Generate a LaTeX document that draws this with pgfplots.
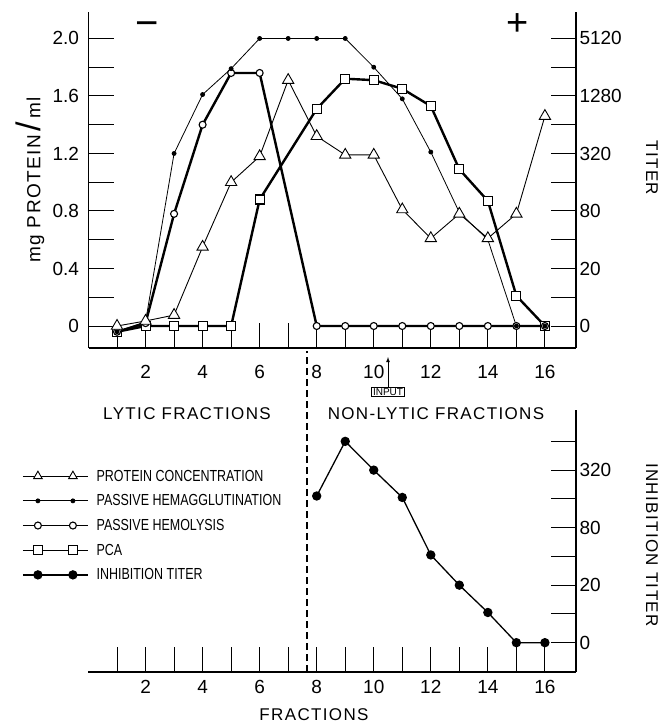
\documentclass[border=0pt]{standalone}
\usepackage{fontspec}
\setmainfont{Liberation Sans}
\newfontfamily\spaced[LetterSpace=8]{Liberation Sans}
\newfontfamily\legfont[FakeStretch=0.78]{Liberation Sans}
\usepackage{pgfplots}
\pgfplotsset{compat=1.18}

% series styles, shared by the plots and the legend
\pgfplotsset{
  protein/.style={black, line width=0.9pt, mark=triangle*, mark size=6.5pt,
    mark options={fill=white, solid, line width=0.9pt}},
  hemag/.style={black, line width=0.8pt, mark=*, mark size=2pt},
  hemolysis/.style={black, line width=2.4pt, mark=*, mark size=3.5pt,
    mark options={fill=white, line width=1.1pt}},
  pca/.style={black, line width=2.4pt, mark=square*, mark size=4.5pt,
    mark options={fill=white, line width=1.1pt}},
  inhib/.style={black, line width=1.3pt, mark=*, mark size=4pt},
  base/.style={
    scale only axis, clip=false,
    xmin=0, xmax=17.09,
    tick align=inside,
    major tick length=25pt, minor tick length=25pt,
    every tick/.style={black, line width=1pt},
    axis line style={line width=1.2pt},
    ticklabel style={font=\fontsize{19}{21}\selectfont},
    /pgf/number format/assume math mode=true,
    xtick={1,...,16},
    xticklabels={,2,,4,,6,,8,,10,,12,,14,,16},
  },
}

\begin{document}
\begin{tikzpicture}[x=1pt,y=1pt]
\useasboundingbox (0,0) rectangle (660,-726);

% ---- upper panel: protein and titers
\begin{axis}[base,
  at={(88.5pt,-348pt)}, anchor=south west,
  width=487.5pt, height=336pt,
  ymin=-0.153, ymax=2.184,
  axis x line*=bottom, axis y line*=left,
  ytick={0,0.2,0.4,0.6,0.8,1.0,1.2,1.4,1.6,1.8,2.0},
  yticklabels={0,,0.4,,0.8,,1.2,,1.6,,2.0},
  xticklabel style={yshift=-14pt},
  yticklabel style={xshift=-6pt},
]
\addplot[pca] coordinates {
  (1,-0.04) (2,0) (3,0) (4,0) (5,0) (6,0.88) (8,1.51) (9,1.72) (10,1.71)
  (11,1.65) (12,1.53) (13,1.09) (14,0.87) (15,0.21) (16,0)
};
\addplot[hemolysis] coordinates {
  (1,-0.04) (2,0.02) (3,0.78) (4,1.40) (5,1.76) (6,1.76) (8,0) (9,0) (10,0)
  (11,0) (12,0) (13,0) (14,0) (15,0) (16,0)
};
\addplot[hemag] coordinates {
  (1,-0.04) (2,0.03) (3,1.20) (4,1.61) (5,1.79) (6,2.0) (7,2.0) (8,2.0) (9,2.0)
  (10,1.80) (11,1.58) (12,1.21) (13,0.79) (14,0.60) (15,0) (16,0)
};
\addplot[protein] coordinates {
  (1,0.0) (2,0.035) (3,0.076) (4,0.55) (5,1.0) (6,1.18) (7,1.71) (8,1.32)
  (9,1.19) (10,1.19) (11,0.81) (12,0.61) (13,0.78) (14,0.61) (15,0.78) (16,1.46)
};
\end{axis}

% right-hand titer scale of the upper panel
\begin{axis}[base,
  at={(88.5pt,-348pt)}, anchor=south west,
  width=487.5pt, height=336pt,
  ymin=-0.153, ymax=2.184,
  axis x line=none, axis y line*=right,
  ytick={0,0.2,0.4,0.6,0.8,1.0,1.2,1.4,1.6,1.8,2.0},
  yticklabels={0,,20,,80,,320,,1280,,5120},
]
\end{axis}

% ---- lower panel: inhibition titer
\begin{axis}[base,
  at={(88.5pt,-672pt)}, anchor=south west,
  width=487.5pt, height=262pt,
  ymin=-0.204, ymax=1.618,
  axis x line*=bottom, axis y line*=right,
  ytick={0,0.2,0.4,0.6,0.8,1.0,1.2,1.4},
  yticklabels={0,,20,,80,,320,},
  xticklabel style={yshift=-5pt},
  legend style={at={(rel axis cs:-0.1364,0.78)}, anchor=north west,
    draw=none, fill=none, inner sep=0pt, row sep=8pt,
    font=\legfont\fontsize{16}{17}\selectfont,
    nodes={inner xsep=1pt}},
  legend cell align=left,
  legend image code/.code={
    \draw[#1, mark=none] (0pt,0pt) -- (65pt,0pt);
    \draw[#1, only marks] plot coordinates {(15pt,0pt) (50pt,0pt)};
    \path (72pt,0pt);
  },
]
\addlegendimage{protein, mark size=5pt}
\addlegendimage{hemag}
\addlegendimage{hemolysis, line width=1.4pt}
\addlegendimage{pca, line width=1.4pt}
\addplot[inhib] coordinates {
  (8,1.02) (9,1.40) (10,1.20) (11,1.01) (12,0.61) (13,0.40) (14,0.21) (15,0) (16,0)
};
\legend{PROTEIN CONCENTRATION, PASSIVE HEMAGGLUTINATION, PASSIVE HEMOLYSIS, PCA, INHIBITION TITER}
\draw[line width=1.2pt, dash pattern=on 7pt off 4pt] (axis cs:7.66,-0.204) -- (axis cs:7.66,2.03);
\end{axis}

% ---- free text
\node[rotate=90, font=\spaced\fontsize{19}{21}\selectfont] at (30,-180) {mg PROTEIN\,{\fontsize{34}{34}\selectfont/}\,ml};
\node[rotate=-90, font=\spaced\fontsize{17}{19}\selectfont] at (652,-168) {TITER};
\node[rotate=-90, font=\spaced\fontsize{17}{19}\selectfont] at (652,-545) {INHIBITION TITER};
\node[font=\spaced\fontsize{17}{19}\selectfont] at (187,-414) {LYTIC FRACTIONS};
\node[font=\spaced\fontsize{17}{19}\selectfont] at (436,-414) {NON-LYTIC FRACTIONS};
\node[font=\spaced\fontsize{17}{19}\selectfont] at (314,-715) {FRACTIONS};
\node[anchor=base, inner sep=0pt, text height=16pt, text depth=0pt,
  font=\fontsize{40}{40}\selectfont] at (147,-36) {−};
\node[anchor=base, inner sep=0pt, text height=26pt, text depth=0pt,
  font=\fontsize{38}{38}\selectfont] at (518,-35) {+};
\node[draw, line width=0.8pt, inner sep=1.2pt, font=\fontsize{10}{11}\selectfont] (inp) at (388,-392) {INPUT};
\draw[line width=0.8pt, -latex] (inp.north) -- (388,-357);
\end{tikzpicture}
\end{document}
